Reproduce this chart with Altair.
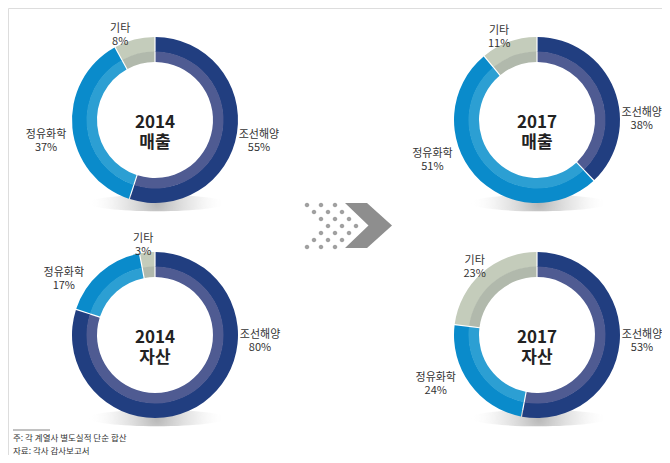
import math
import altair as alt
import pandas as pd

# ---------------- data ----------------
categories = ["조선해양", "정유화학", "기타"]
sales_2014 = [55, 37, 8]
sales_2017 = [38, 51, 11]
assets_2014 = [80, 17, 3]
assets_2017 = [53, 24, 23]

panel_years = ["2014", "2017", "2014", "2017"]
panel_kinds = ["매출", "매출", "자산", "자산"]
panel_values = [sales_2014, sales_2017, assets_2014, assets_2017]

footnotes = ["주: 각 계열사 별도실적 단순 합산", "자료: 각사 감사보고서"]

# ---------------- layout / style (not data) ----------------
centers = [(147, 112), (529, 112), (147, 327), (529, 327)]  # canvas coords of donut centres
label_angles = [  # degrees clockwise from 12 o'clock, per donut, per category
    [98, 262, 339],
    [86, 252, 337],
    [90, 304, 353],
    [90, 247, 320],
]
label_radius = [105, 110, 97]
outer_colors = ["#213e80", "#0a8bcb", "#c4ccbb"]
inner_colors = ["#4f5b92", "#2c9fd3", "#b1b9ac"]
OUT_R, MID_R, IN_R = 83, 68, 58
W, H = 654, 447

layers = []

# one shared theta scale: 0..100 (percent of the circle)
theta_scale = alt.Scale(domain=[0, 100], range=[0, 2 * math.pi])

shadow_fill = alt.RadialGradient(
    gradient="radial",
    x1=0.5, y1=0.5, r1=0, x2=0.5, y2=0.5, r2=0.5,
    stops=[
        alt.GradientStop(offset=0, color="rgba(110,110,110,0.5)"),
        alt.GradientStop(offset=0.55, color="rgba(170,170,170,0.22)"),
        alt.GradientStop(offset=1, color="rgba(255,255,255,0)"),
    ],
)
ellipse = "M -1 0 A 1 0.12 0 1 0 1 0 A 1 0.12 0 1 0 -1 0 Z"

for i in range(4):
    cx, cy = centers[i]
    df = pd.DataFrame({
        "cat": categories,
        "value": panel_values[i],
        "order": [0, 1, 2],
        "label": [f"{c}\n{v}%" for c, v in zip(categories, panel_values[i])],
        "angle_pct": [a / 3.6 for a in label_angles[i]],
        "lr": label_radius,
    })
    base = alt.Chart(df)

    shadow = alt.Chart(pd.DataFrame({"k": [0]})).mark_point(
        shape=ellipse, filled=True, fill=shadow_fill, size=19000, opacity=1, strokeWidth=0
    ).encode(x=alt.value(cx + 2), y=alt.value(cy + 83))

    outer = base.mark_arc(outerRadius=OUT_R, innerRadius=MID_R, padAngle=0.011).encode(
        theta=alt.Theta("value:Q", stack=True, scale=theta_scale),
        order=alt.Order("order:Q"),
        color=alt.Color("cat:N", scale=alt.Scale(domain=categories, range=outer_colors), legend=None),
        x=alt.value(cx), y=alt.value(cy),
    )
    inner = base.mark_arc(outerRadius=MID_R + 0.5, innerRadius=IN_R, padAngle=0.013).encode(
        theta=alt.Theta("value:Q", stack=True, scale=theta_scale),
        order=alt.Order("order:Q"),
        fill=alt.Fill("cat:N", scale=alt.Scale(domain=categories, range=inner_colors), legend=None),
        x=alt.value(cx), y=alt.value(cy),
    )
    labels = base.mark_text(
        font="Noto Sans CJK KR", fontSize=11, color="#333333", lineBreak="\n",
        lineHeight=13, align="center", baseline="middle",
    ).encode(
        theta=alt.Theta("angle_pct:Q", stack=None, scale=theta_scale),
        radius=alt.Radius("lr:Q", scale=None),
        text="label:N",
        x=alt.value(cx), y=alt.value(cy),
    )
    center_df = pd.DataFrame({"t": [f"{panel_years[i]}\n{panel_kinds[i]}"]})
    center = alt.Chart(center_df).mark_text(
        font="Noto Sans CJK KR", fontSize=17, fontWeight="bold", color="#222222",
        lineBreak="\n", lineHeight=20, align="center", baseline="middle",
    ).encode(text="t:N", x=alt.value(cx), y=alt.value(cy + 3))

    layers += [shadow, outer, inner, labels, center]

# ---------------- arrow decoration ----------------
# chevron, unit = 25 px (size 2500)
chevron = "M -0.94 -0.9 L -0.06 -0.9 L 0.94 0 L -0.06 0.9 L -0.94 0.9 L 0.0 0 Z"
dot_r = 0.09
dot_paths = []
row_shift = [0, 1, 2, 3, 2, 1, 0]
for r, k in enumerate(row_shift):
    for j in range(3):
        px = 307 + 7 * k + 14 * j
        py = 205 + 7 * r
        ux = (px - 368.5) / 25
        uy = (py - 225.5) / 25
        dot_paths.append(
            f"M {ux - dot_r:.3f} {uy:.3f} A {dot_r} {dot_r} 0 1 0 {ux + dot_r:.3f} {uy:.3f} "
            f"A {dot_r} {dot_r} 0 1 0 {ux - dot_r:.3f} {uy:.3f} Z"
        )
dots = " ".join(dot_paths)
one = pd.DataFrame({"k": [0]})
arrow = alt.Chart(one).mark_point(shape=chevron, filled=True, color="#8e8e8e", size=2500, opacity=1).encode(
    x=alt.value(360.5), y=alt.value(217.5)
)
arrow_dots = alt.Chart(one).mark_point(shape=dots, filled=True, color="#a0a0a0", size=2500, opacity=1).encode(
    x=alt.value(360.5), y=alt.value(217.5)
)
layers += [arrow_dots, arrow]

# ---------------- footnote ----------------
rule = alt.Chart(one).mark_rule(color="#666666", strokeWidth=0.8).encode(
    x=alt.value(5), x2=alt.value(42), y=alt.value(422)
)
foot_df = pd.DataFrame({"t": footnotes, "i": [0, 1]})
foot = alt.Chart(foot_df).mark_text(
    font="Noto Sans CJK KR", fontSize=8.5, color="#333333", align="left", baseline="middle"
).encode(
    text="t:N",
    x=alt.value(5),
    y=alt.Y("i:O", axis=None, scale=alt.Scale(range=[430, 443], paddingOuter=0, paddingInner=0, padding=0)),
)
layers += [rule, foot]

chart = alt.layer(*layers).properties(
    width=W, height=H, padding=0, autosize=alt.AutoSizeParams(type="none"),
).configure_view(stroke=None).configure(background="white")

chart.save("out.html", embed_options={"renderer": "svg", "actions": False})
